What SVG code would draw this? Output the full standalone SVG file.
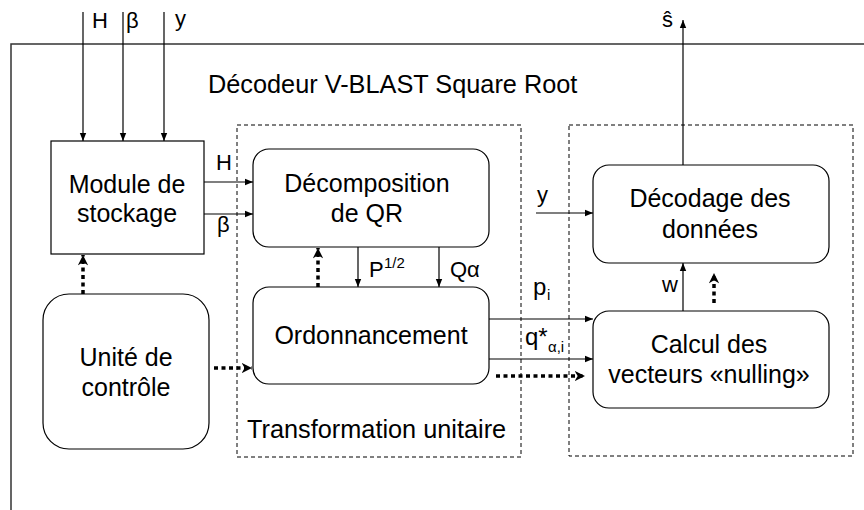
<svg xmlns="http://www.w3.org/2000/svg" width="864" height="510" viewBox="0 0 864 510">
<style>
text{font-family:"Liberation Sans",Arial,sans-serif;fill:#000}
.t{font-size:25px;text-anchor:middle}
.l{font-size:22px}
.s{font-size:15px}
.box{fill:#fff;stroke:#000;stroke-width:1.2}
.dash{fill:none;stroke:#000;stroke-width:1;stroke-dasharray:4 3}
.a{fill:none;stroke:#000;stroke-width:1.2;marker-end:url(#ah)}
.d{fill:none;stroke:#000;stroke-width:3.5;stroke-dasharray:4 3.5;marker-end:url(#dh)}
</style>
<defs>
<marker id="ah" viewBox="0 0 10 10" refX="10" refY="5" markerWidth="8" markerHeight="8" markerUnits="userSpaceOnUse" orient="auto"><path d="M0,1 L10,5 L0,9 Z" fill="#000"/></marker>
<marker id="dh" viewBox="0 0 10 10" refX="10" refY="5" markerWidth="3" markerHeight="3" orient="auto"><path d="M0,0 L10,5 L0,10 L3,5 Z" fill="#000"/></marker>
</defs>
<path d="M11,510 V44 H864" fill="none" stroke="#333" stroke-width="1.5"/>
<text x="208" y="93" style="font-size:25.3px">Décodeur V-BLAST Square Root</text>
<g id="transfo">
<rect class="dash" x="237" y="125" width="284" height="332"/>
<text x="247" y="438" style="font-size:25.3px">Transformation unitaire</text>
</g>
<g id="detect">
<rect class="dash" x="569" y="125" width="284" height="331"/>
</g>
<g id="connectors">
<path class="a" d="M83,12 V141"/>
<path class="a" d="M123,12 V141"/>
<path class="a" d="M164,12 V141"/>
<path class="a" d="M204,182 H253"/>
<path class="a" d="M204,214 H253"/>
<path class="a" d="M358,247 V287"/>
<path class="a" d="M439,247 V287"/>
<path class="a" d="M489,319 H593"/>
<path class="a" d="M489,359 H593"/>
<path class="a" d="M536,213 H593"/>
<path class="a" d="M683,311 V263"/>
<path class="a" d="M683,165 V20"/>
<path class="d" d="M83,294 V255"/>
<path class="d" d="M318,287 V248"/>
<path class="d" d="M214,368 H252"/>
<path class="d" d="M496,376 H585"/>
<path class="d" d="M714,303 V273"/>
<text class="l" x="92" y="28">H</text>
<text class="l" x="126" y="28">β</text>
<text class="l" x="175" y="26">y</text>
<text class="l" x="216" y="170">H</text>
<text class="l" x="217" y="232">β</text>
<text class="l" x="369" y="277">P</text>
<text class="s" x="384" y="268">1/2</text>
<text class="l" x="450" y="277">Qα</text>
<text x="533" y="295" style="font-size:24px">p</text>
<text class="s" x="547" y="300">i</text>
<text x="525" y="345" style="font-size:24px">q*</text>
<text class="s" x="548" y="352">α,i</text>
<text class="l" x="537" y="202">y</text>
<text class="l" x="662" y="292">w</text>
<text class="l" x="662" y="27">ŝ</text>
</g>
<g id="stockage">
<rect class="box" x="51" y="141" width="153" height="113"/>
<text class="t" x="127" y="193">Module de</text>
<text class="t" x="127" y="222">stockage</text>
</g>
<g id="controle">
<rect class="box" x="43" y="294" width="166" height="155" rx="26"/>
<text class="t" x="126" y="366">Unité de</text>
<text class="t" x="126" y="396">contrôle</text>
</g>
<g id="qr">
<rect class="box" x="253" y="149" width="236" height="98" rx="16"/>
<text class="t" x="367" y="192">Décomposition</text>
<text class="t" x="367" y="222">de QR</text>
</g>
<g id="ordo">
<rect class="box" x="253" y="287" width="236" height="97" rx="16"/>
<text class="t" x="371" y="344">Ordonnancement</text>
</g>
<g id="decodage">
<rect class="box" x="593" y="165" width="236" height="98" rx="16"/>
<text class="t" x="710" y="207">Décodage des</text>
<text class="t" x="710" y="238">données</text>
</g>
<g id="calcul">
<rect class="box" x="593" y="311" width="236" height="97" rx="16"/>
<text class="t" x="709" y="353">Calcul des</text>
<text class="t" x="709" y="383">vecteurs «nulling»</text>
</g>
</svg>
